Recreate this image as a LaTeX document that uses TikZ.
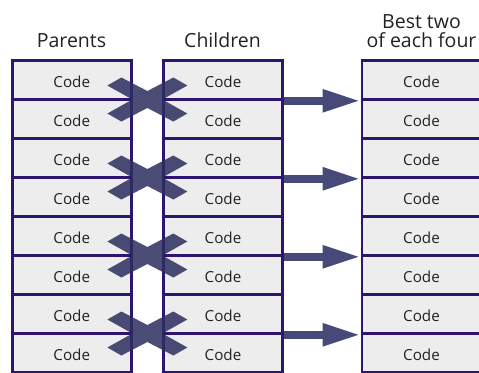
\documentclass[tikz,border=0pt]{standalone}
\usepackage{fontspec}
\setmainfont{Open Sans}
\usetikzlibrary{arrows.meta,calc}

\definecolor{cellline}{HTML}{2E1670}
\definecolor{cellfill}{HTML}{EDEDED}
\definecolor{swapcol}{HTML}{2C2E5E}
\definecolor{arrowcol}{HTML}{474979}
\definecolor{labeltext}{HTML}{222222}

\tikzset{
  cell/.style={draw=cellline, line width=2.6pt, fill=cellfill,
    minimum width=119pt, minimum height=39pt, inner sep=0pt,
    text height=14pt, text depth=0pt, text=labeltext,
    font=\fontsize{15.2}{18}\selectfont},
  heading/.style={anchor=base, text=labeltext, inner sep=0pt,
    font=\fontsize{19.5}{22}\selectfont},
  keeparrow/.style={draw=arrowcol, line width=8pt,
    -{Triangle[length=38pt,width=21pt]}},
  swapmark/.style={fill=swapcol, fill opacity=0.85}
}

\begin{document}
\begin{tikzpicture}[x=1pt, y=-1pt]
  \useasboundingbox (0,0) rectangle (479,372);
  \clip (0,0) rectangle (479,372);

  % column headings
  \node[heading] (hp) at (71.5,47) {Parents};
  \node[heading] (hc) at (222.5,47) {Children};
  \node[heading] (hb1) at (421.5,28) {Best two};
  \node[heading] (hb2) at (421.5,47) {of each four};

  % the three columns of cells
  \foreach \i in {1,...,8} {
    \pgfmathsetmacro{\yc}{60.5 + 39*(\i-0.5)}
    \node[cell] (p\i) at (71.75,\yc) {Code};
    \node[cell] (c\i) at (223,\yc) {Code};
    \node[cell] (b\i) at (421.5,\yc) {Code};
  }

  % crossover marks between each pair of parents and children
  \foreach \a/\b in {1/2,3/4,5/6,7/8} {
    \coordinate (x\a) at ($(p\a.south east)!0.5!(c\b.north west)$);
    \fill[swapmark, shift={(x\a)}]
      (-40,-14) -- (-26,-22) -- (0,-8.5) -- (26,-22) -- (40,-14) -- (15,0)
      -- (40,14) -- (26,22) -- (0,8.5) -- (-26,22) -- (-40,14) -- (-15,0)
      -- cycle;
  }

  % selection arrows from children to the kept pair
  \foreach \a in {1,3,5,7} {
    \draw[keeparrow] (c\a.south east) -- (b\a.south west);
  }
\end{tikzpicture}
\end{document}
